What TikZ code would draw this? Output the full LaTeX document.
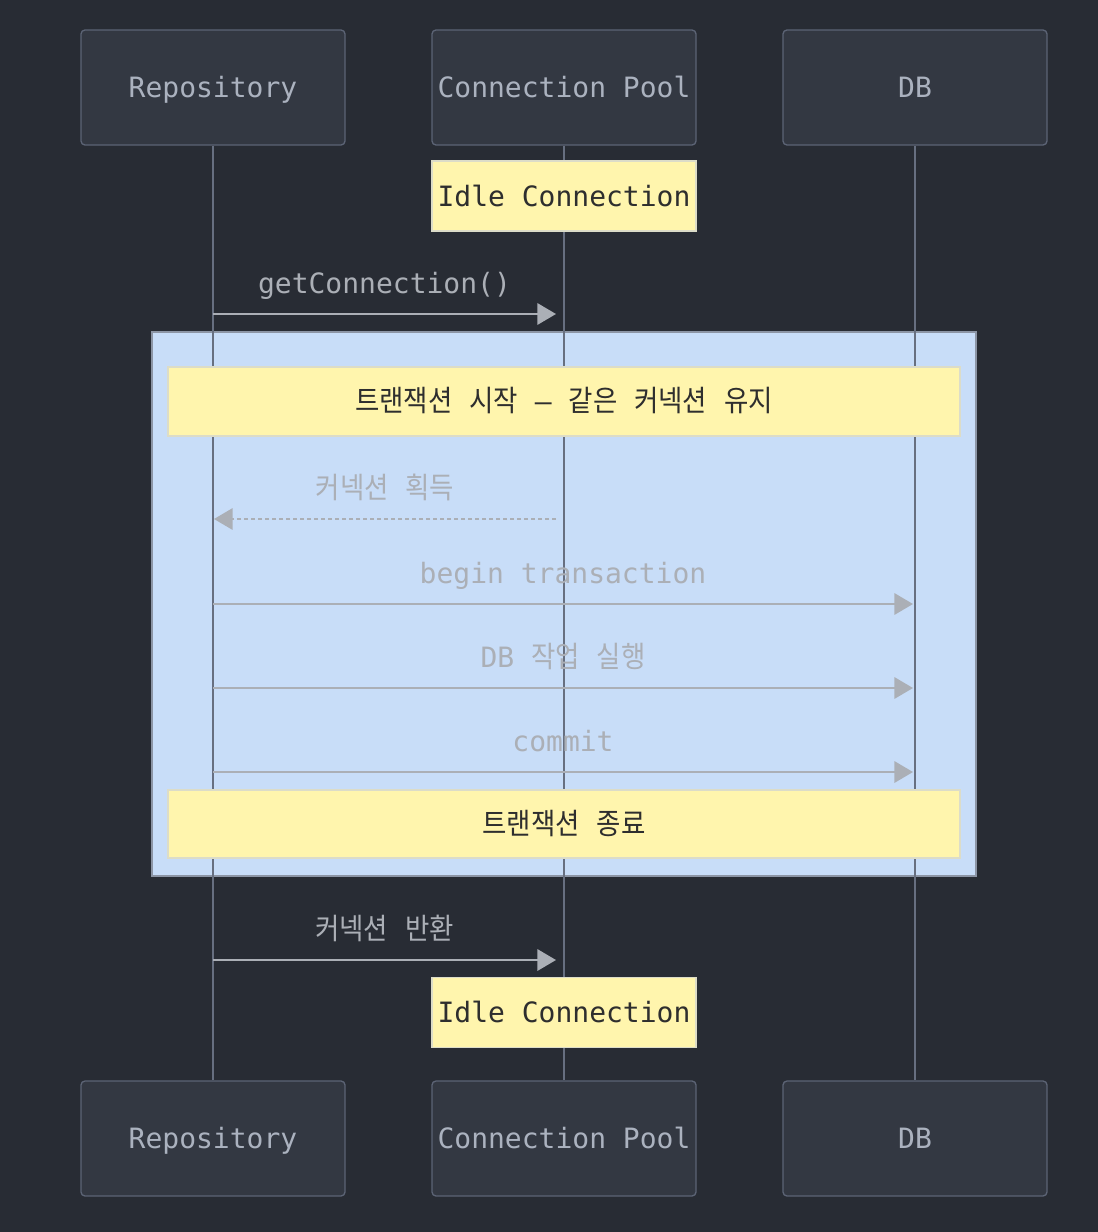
\documentclass[tikz,border=0pt]{standalone}
\usepackage{fontspec}
\setmainfont{DejaVu Sans Mono}
\newfontfamily\krfont[Scale=1.05, FakeStretch=0.9]{Noto Sans CJK KR}
\newcommand\hg[1]{{\krfont #1}}
\usetikzlibrary{arrows.meta}
\definecolor{bgcol}{HTML}{282C34}
\definecolor{actorfill}{HTML}{333842}
\definecolor{actorline}{HTML}{5C6475}
\definecolor{actortext}{HTML}{ABB2BF}
\definecolor{lifecol}{HTML}{676F80}
\definecolor{notefill}{HTML}{FFF5AD}
\definecolor{noteline}{HTML}{DCDCC8}
\definecolor{notetext}{HTML}{2E2E2E}
\definecolor{boxfill}{HTML}{C8DDF8}
\definecolor{boxline}{HTML}{8C95A5}
\definecolor{msgcol}{HTML}{ABAFB6}

\begin{document}
\begin{tikzpicture}[x=0.75pt, y=-0.75pt,
    actor/.style={rectangle, rounded corners=3pt, draw=actorline, fill=actorfill, line width=1pt, minimum width=198pt, minimum height=86.25pt, inner sep=0pt, text=actortext, font=\fontsize{21}{25}\selectfont, text height=15.3pt, text depth=0pt},
    note/.style={rectangle, draw=noteline, fill=notefill, line width=0.8pt, inner sep=0pt, text=notetext, font=\fontsize{21}{25}\selectfont, text height=15.3pt, text depth=0pt},
    msg/.style={draw=msgcol, line width=1.8pt, -{Triangle[length=14pt, width=16pt]}},
    reply/.style={msg, dash pattern=on 3pt off 2.25pt},
    lbl/.style={midway, yshift=23pt, text=msgcol, font=\fontsize{21}{25}\selectfont, text height=15.3pt, text depth=0pt, inner sep=0pt}]
    \useasboundingbox [fill=bgcol] (0,0) rectangle (1098,1232);

    % transaction box
    \node [rectangle, draw=boxline, fill=boxfill, line width=0.8pt, minimum width=618pt, minimum height=408pt, inner sep=0pt] (txbox) at (564,604) {};

    % participants
    \node [actor] (repTop) at (213,87.5) {Repository};
    \node [actor] (poolTop) at (564,87.5) {Connection Pool};
    \node [actor] (dbTop) at (915,87.5) {DB};
    \node [actor] (repBot) at (213,1138.5) {Repository};
    \node [actor] (poolBot) at (564,1138.5) {Connection Pool};
    \node [actor] (dbBot) at (915,1138.5) {DB};

    \begin{scope}[draw=lifecol, line width=2pt]
        \draw (repTop) -- (repBot);
        \draw (poolTop) -- (poolBot);
        \draw (dbTop) -- (dbBot);
    \end{scope}

    % notes
    \node [note, minimum width=198pt, minimum height=52.5pt] (idle1) at (564,196) {Idle Connection};
    \node [note, minimum width=594pt, minimum height=51.75pt] (txstart) at (564,401.5) {\hg{트랜잭션} \hg{시작} – \hg{같은} \hg{커넥션} \hg{유지}};
    \node [note, minimum width=594pt, minimum height=51pt] (txend) at (564,824) {\hg{트랜잭션} \hg{종료}};
    \node [note, minimum width=198pt, minimum height=52.5pt] (idle2) at (564,1012.5) {Idle Connection};

    % message ends
    \coordinate (m1a) at (213,314);  \coordinate (m1b) at (556,314);
    \coordinate (m2a) at (556,519);  \coordinate (m2b) at (214,519);
    \coordinate (m3a) at (213,604);  \coordinate (m3b) at (913,604);
    \coordinate (m4a) at (213,688);  \coordinate (m4b) at (913,688);
    \coordinate (m5a) at (213,772);  \coordinate (m5b) at (913,772);
    \coordinate (m6a) at (213,960);  \coordinate (m6b) at (556,960);

    \draw [msg] (m1a) -- node [lbl] {getConnection()} (m1b);
    \draw [reply] (m2a) -- node [lbl] {\hg{커넥션} \hg{획득}} (m2b);
    \draw [msg] (m3a) -- node [lbl] {begin transaction} (m3b);
    \draw [msg] (m4a) -- node [lbl] {DB \hg{작업} \hg{실행}} (m4b);
    \draw [msg] (m5a) -- node [lbl] {commit} (m5b);
    \draw [msg] (m6a) -- node [lbl] {\hg{커넥션} \hg{반환}} (m6b);
\end{tikzpicture}
\end{document}
